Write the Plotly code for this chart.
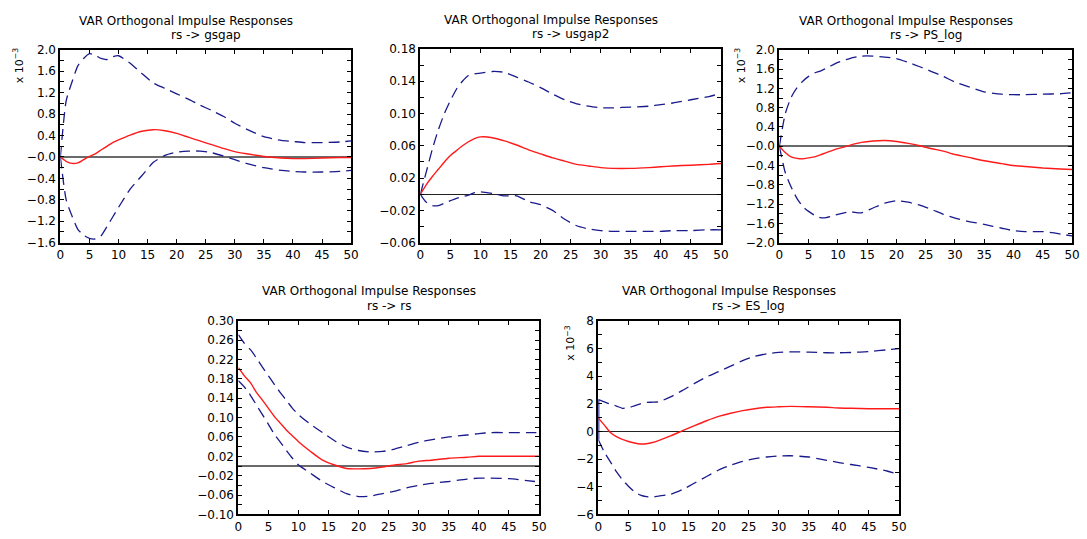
import plotly.graph_objects as go

W, H = 1087, 539

# horizon grid (periods)
T = [0, 1, 2, 3, 4, 5, 6, 7, 8, 9, 10, 12, 14, 16, 18, 20, 22, 24, 26, 28, 30, 32, 35, 38, 40, 42, 45, 48, 50]

# rs -> gsgap  (x 10^-3)
gsgap_irf = [0, -0.08, -0.12, -0.11, -0.05, 0.01, 0.06, 0.13, 0.2, 0.27, 0.32, 0.41, 0.48, 0.51, 0.49, 0.44, 0.37, 0.3, 0.23, 0.16, 0.1, 0.06, 0.01, -0.02, -0.03, -0.03, -0.02, -0.01, -0.01]
gsgap_up = [0, 1.05, 1.4, 1.7, 1.84, 1.93, 1.90, 1.84, 1.82, 1.87, 1.89, 1.75, 1.56, 1.38, 1.28, 1.18, 1.08, 0.97, 0.87, 0.76, 0.63, 0.52, 0.38, 0.31, 0.29, 0.27, 0.27, 0.28, 0.30]
gsgap_lo = [0, -0.8, -1.1, -1.35, -1.46, -1.52, -1.53, -1.47, -1.3, -1.12, -0.94, -0.6, -0.35, -0.1, 0.03, 0.09, 0.11, 0.11, 0.08, 0.02, -0.05, -0.12, -0.2, -0.25, -0.27, -0.28, -0.28, -0.27, -0.25]

# rs -> usgap2
usgap2_irf = [0, 0.012, 0.022, 0.031, 0.04, 0.048, 0.054, 0.06, 0.065, 0.069, 0.071, 0.070, 0.066, 0.061, 0.055, 0.050, 0.045, 0.041, 0.037, 0.035, 0.033, 0.032, 0.032, 0.033, 0.034, 0.035, 0.036, 0.037, 0.038]
usgap2_up = [0, 0.028, 0.056, 0.08, 0.10, 0.116, 0.13, 0.14, 0.147, 0.149, 0.150, 0.152, 0.151, 0.145, 0.139, 0.132, 0.124, 0.117, 0.112, 0.109, 0.107, 0.107, 0.108, 0.109, 0.111, 0.113, 0.117, 0.121, 0.125]
usgap2_lo = [0, -0.01, -0.014, -0.014, -0.011, -0.008, -0.005, -0.003, -0.001, 0.002, 0.003, 0.001, -0.002, -0.002, -0.009, -0.013, -0.02, -0.031, -0.039, -0.043, -0.045, -0.046, -0.046, -0.046, -0.046, -0.045, -0.045, -0.044, -0.044]

# rs -> PS_log  (x 10^-3)
pslog_irf = [0, -0.13, -0.22, -0.25, -0.26, -0.24, -0.22, -0.18, -0.13, -0.09, -0.05, 0.02, 0.08, 0.11, 0.12, 0.10, 0.06, 0.01, -0.05, -0.1, -0.17, -0.22, -0.3, -0.36, -0.40, -0.42, -0.45, -0.47, -0.48]
pslog_up = [0, 0.67, 1.01, 1.21, 1.35, 1.45, 1.52, 1.56, 1.62, 1.68, 1.74, 1.82, 1.87, 1.87, 1.85, 1.82, 1.74, 1.65, 1.55, 1.45, 1.33, 1.25, 1.13, 1.08, 1.07, 1.07, 1.08, 1.09, 1.11]
pslog_lo = [0, -0.54, -0.84, -1.08, -1.25, -1.35, -1.43, -1.48, -1.48, -1.45, -1.41, -1.36, -1.38, -1.28, -1.18, -1.13, -1.16, -1.22, -1.31, -1.41, -1.49, -1.55, -1.62, -1.70, -1.75, -1.77, -1.77, -1.82, -1.86]

# rs -> rs
rs_irf = [0.203, 0.186, 0.172, 0.152, 0.136, 0.119, 0.102, 0.088, 0.074, 0.062, 0.050, 0.030, 0.012, 0.002, -0.005, -0.006, -0.005, -0.002, 0.002, 0.005, 0.010, 0.012, 0.016, 0.018, 0.020, 0.020, 0.020, 0.020, 0.020]
rs_up = [0.271, 0.253, 0.240, 0.223, 0.204, 0.186, 0.168, 0.151, 0.135, 0.119, 0.106, 0.086, 0.069, 0.052, 0.039, 0.032, 0.029, 0.030, 0.035, 0.042, 0.049, 0.054, 0.060, 0.064, 0.067, 0.069, 0.069, 0.069, 0.069]
rs_lo = [0.176, 0.163, 0.146, 0.126, 0.106, 0.086, 0.065, 0.049, 0.032, 0.016, 0.002, -0.015, -0.032, -0.045, -0.057, -0.063, -0.062, -0.057, -0.052, -0.045, -0.040, -0.036, -0.032, -0.027, -0.025, -0.025, -0.026, -0.030, -0.033]

# rs -> ES_log  (x 10^-3)
eslog_irf = [0.96, 0.45, -0.08, -0.38, -0.58, -0.73, -0.84, -0.91, -0.89, -0.80, -0.66, -0.33, 0.05, 0.42, 0.77, 1.08, 1.31, 1.50, 1.64, 1.74, 1.78, 1.81, 1.78, 1.74, 1.69, 1.67, 1.64, 1.64, 1.64]
eslog_up = [2.30, 2.13, 1.97, 1.83, 1.67, 1.71, 1.85, 1.99, 2.09, 2.11, 2.13, 2.49, 2.96, 3.47, 3.94, 4.32, 4.71, 5.11, 5.42, 5.61, 5.70, 5.75, 5.72, 5.68, 5.68, 5.70, 5.77, 5.89, 5.98]
eslog_lo = [-0.6, -1.5, -2.2, -2.91, -3.49, -3.96, -4.36, -4.6, -4.71, -4.74, -4.67, -4.55, -4.2, -3.73, -3.26, -2.79, -2.44, -2.16, -1.97, -1.85, -1.78, -1.76, -1.85, -2.09, -2.25, -2.39, -2.6, -2.86, -3.1]

# tick labels
x_tickvals = [0, 5, 10, 15, 20, 25, 30, 35, 40, 45, 50]
x_ticktext = ["0", "5", "10", "15", "20", "25", "30", "35", "40", "45", "50"]

y1_vals = [-1.6, -1.2, -0.8, -0.4, 0.0, 0.4, 0.8, 1.2, 1.6, 2.0]
y1_text = ["\u22121.6", "\u22121.2", "\u22120.8", "\u22120.4", "\u22120.0", "0.4", "0.8", "1.2", "1.6", "2.0"]
y2_vals = [-0.06, -0.02, 0.02, 0.06, 0.10, 0.14, 0.18]
y2_text = ["\u22120.06", "\u22120.02", "0.02", "0.06", "0.10", "0.14", "0.18"]
y3_vals = [-2.0, -1.6, -1.2, -0.8, -0.4, 0.0, 0.4, 0.8, 1.2, 1.6, 2.0]
y3_text = ["\u22122.0", "\u22121.6", "\u22121.2", "\u22120.8", "\u22120.4", "\u22120.0", "0.4", "0.8", "1.2", "1.6", "2.0"]
y4_vals = [-0.10, -0.06, -0.02, 0.02, 0.06, 0.10, 0.14, 0.18, 0.22, 0.26, 0.30]
y4_text = ["\u22120.10", "\u22120.06", "\u22120.02", "0.02", "0.06", "0.10", "0.14", "0.18", "0.22", "0.26", "0.30"]
y5_vals = [-6, -4, -2, 0, 2, 4, 6, 8]
y5_text = ["\u22126", "\u22124", "\u22122", "0", "2", "4", "6", "8"]

TITLE = "VAR Orthogonal Impulse Responses"
FONT = "DejaVu Sans"

panels = [
    dict(sub="rs -> gsgap", irf=gsgap_irf, up=gsgap_up, lo=gsgap_lo, box=(57, 351, 44, 242),
         yr=(-1.6, 2.0), tv=y1_vals, tt=y1_text, minor=0.2, zl=("#6a6a6a", 2), sci=(15, 60), vbar=False),
    dict(sub="rs -> usgap2", irf=usgap2_irf, up=usgap2_up, lo=usgap2_lo, box=(421, 725, 43, 242),
         yr=(-0.06, 0.18), tv=y2_vals, tt=y2_text, minor=0.02, zl=("#222222", 1), sci=None, vbar=False),
    dict(sub="rs -> PS_log", irf=pslog_irf, up=pslog_up, lo=pslog_lo, box=(784, 1080, 44, 242),
         yr=(-2.0, 2.0), tv=y3_vals, tt=y3_text, minor=0.2, zl=("#6a6a6a", 2), sci=(745, 60), vbar=False),
    dict(sub="rs -> rs", irf=rs_irf, up=rs_up, lo=rs_lo, box=(237, 541, 322, 521),
         yr=(-0.10, 0.30), tv=y4_vals, tt=y4_text, minor=0.02, zl=("#6a6a6a", 2), sci=None, vbar=False),
    dict(sub="rs -> ES_log", irf=eslog_irf, up=eslog_up, lo=eslog_lo, box=(601, 905, 322, 521),
         yr=(-6, 8), tv=y5_vals, tt=y5_text, minor=1, zl=("#222222", 1), sci=(572, 345), vbar=True),
]

NAVY = "#1a1a8c"
RED = "#ff1a1a"

fig = go.Figure()
annotations = []
layout = dict(
    width=W, height=H, margin=dict(l=0, r=0, t=0, b=0),
    paper_bgcolor="white", plot_bgcolor="white", showlegend=False,
    font=dict(family=FONT, size=12, color="black"),
)

for i, p in enumerate(panels, start=1):
    xa = "x" if i == 1 else f"x{i}"
    ya = "y" if i == 1 else f"y{i}"
    x0, x1, y0, y1 = p["box"]
    common = dict(mode="lines", xaxis=xa, yaxis=ya, hoverinfo="skip")
    fig.add_trace(go.Scatter(x=T, y=p["up"], line=dict(color=NAVY, width=1.3, dash="11px,6px", shape="spline", smoothing=0.6), **common))
    fig.add_trace(go.Scatter(x=T, y=p["lo"], line=dict(color=NAVY, width=1.3, dash="11px,6px", shape="spline", smoothing=0.6), **common))
    if p["vbar"]:
        fig.add_trace(go.Scatter(x=[T[0], T[0]], y=[p["up"][0], p["lo"][0]], line=dict(color=NAVY, width=2), **common))
    fig.add_trace(go.Scatter(x=T, y=p["irf"], line=dict(color=RED, width=1.4, shape="spline", smoothing=0.6), **common))

    axis_common = dict(showline=True, linecolor="black", linewidth=2, mirror="allticks",
                       ticks="inside", ticklen=4, tickwidth=1, tickcolor="black",
                       showgrid=False, tickfont=dict(family=FONT, size=12, color="black"))
    layout["xaxis" if i == 1 else f"xaxis{i}"] = dict(
        domain=[x0 / W, x1 / W], anchor=ya, range=[0, 50],
        tickmode="array", tickvals=x_tickvals, ticktext=x_ticktext, zeroline=False, **axis_common)
    layout["yaxis" if i == 1 else f"yaxis{i}"] = dict(
        domain=[1 - y1 / H, 1 - y0 / H], anchor=xa, range=list(p["yr"]),
        tickmode="array", tickvals=p["tv"], ticktext=p["tt"],
        minor=dict(dtick=p["minor"], tick0=0, ticks="inside", ticklen=4, tickcolor="black", showgrid=False),
        zeroline=True, zerolinecolor=p["zl"][0], zerolinewidth=p["zl"][1], **axis_common)

    cx = (x0 + x1) / 2
    annotations.append(dict(text=TITLE, x=(cx - 20) / W, y=1 - (y0 - 30) / H, xref="paper", yref="paper",
                            xanchor="center", yanchor="middle", showarrow=False,
                            font=dict(family=FONT, size=12, color="black")))
    annotations.append(dict(text=p["sub"], x=cx / W, y=1 - (y0 - 15) / H, xref="paper", yref="paper",
                            xanchor="center", yanchor="middle", showarrow=False,
                            font=dict(family=FONT, size=12, color="black")))
    if p["sci"]:
        sx, sy = p["sci"]
        annotations.append(dict(text="x 10<sup>\u22123</sup>", x=sx / W, y=1 - sy / H, xref="paper", yref="paper",
                                xanchor="center", yanchor="middle", showarrow=False, textangle=-90,
                                font=dict(family=FONT, size=11, color="black")))

layout["annotations"] = annotations
fig.update_layout(**layout)
fig.write_html("out.html")
